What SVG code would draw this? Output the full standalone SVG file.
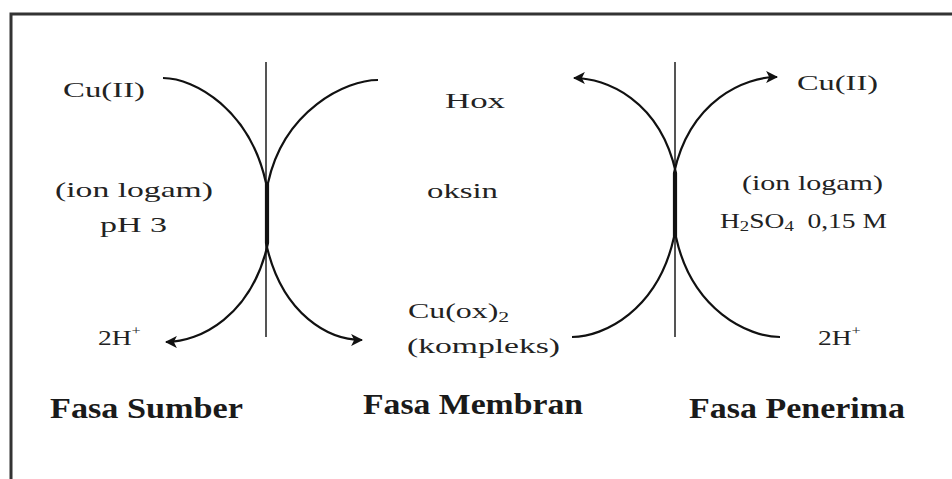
<svg xmlns="http://www.w3.org/2000/svg" width="952" height="479" viewBox="0 0 952 479">
<defs>
<marker id="ah" viewBox="0 0 10 10" refX="9" refY="5" markerWidth="5.5" markerHeight="5.5" markerUnits="strokeWidth" orient="auto">
<path d="M0,0 L10,5 L0,10 L2.5,5 Z" fill="#111"/>
</marker>
</defs>
<style>
.t{font-family:"Liberation Serif","Times New Roman",serif;font-size:22px;fill:#222}
.b{font-family:"Liberation Serif","Times New Roman",serif;font-size:30px;font-weight:bold;fill:#1a1a1a}
.c{fill:none;stroke:#111;stroke-width:2.2}
.m{stroke:#555;stroke-width:2}
.f{stroke:#333;stroke-width:3;fill:none}
</style>
<rect width="952" height="479" fill="#fff"/>
<g id="frame"><path class="f" d="M11,479 L11,14 L952,14"/></g>
<g id="membranes">
<line class="m" x1="266" y1="62" x2="266" y2="337"/>
<line class="m" x1="675" y1="62" x2="675" y2="337"/>
</g>
<g id="connectors">
<path class="c" d="M163,78 C195,78 250,110 266,183 L266,243 C282,316 330,340 362,340" marker-end="url(#ah)"/>
<path class="c" d="M378,80 C346,80 284,110 268,183 L268,243 C252,316 200,342 166,342" marker-end="url(#ah)"/>
<path class="c" d="M572,337 C604,337 658,310 674,237 L674,173 C690,100 745,77 777,77" marker-end="url(#ah)"/>
<path class="c" d="M780,337 C748,337 692,310 676,237 L676,173 C660,100 606,78 574,78" marker-end="url(#ah)"/>
</g>
<g id="source">
<text class="t" x="63" y="97" textLength="82" lengthAdjust="spacingAndGlyphs">Cu(II)</text>
<text class="t" x="55" y="197" textLength="158" lengthAdjust="spacingAndGlyphs">(ion logam)</text>
<text class="t" x="100" y="232" textLength="67" lengthAdjust="spacingAndGlyphs">pH 3</text>
<text class="t" transform="translate(98,345) scale(1.25,1)">2H<tspan font-size="13" dy="-10">+</tspan></text>
<text class="b" x="50" y="418" textLength="193" lengthAdjust="spacingAndGlyphs">Fasa Sumber</text>
</g>
<g id="membrane">
<text class="t" x="445" y="108" textLength="60" lengthAdjust="spacingAndGlyphs">Hox</text>
<text class="t" x="427" y="198" textLength="71" lengthAdjust="spacingAndGlyphs">oksin</text>
<text class="t" transform="translate(408,318) scale(1.45,1)">Cu(ox)<tspan font-size="15" dy="4">2</tspan></text>
<text class="t" x="407" y="353" textLength="153" lengthAdjust="spacingAndGlyphs">(kompleks)</text>
<text class="b" x="363" y="414" textLength="220" lengthAdjust="spacingAndGlyphs">Fasa Membran</text>
</g>
<g id="receiver">
<text class="t" x="797" y="90" textLength="81" lengthAdjust="spacingAndGlyphs">Cu(II)</text>
<text class="t" x="742" y="190" textLength="141" lengthAdjust="spacingAndGlyphs">(ion logam)</text>
<text class="t" transform="translate(720,228) scale(1.25,1)">H<tspan font-size="15" dy="3">2</tspan><tspan dy="-3">SO</tspan><tspan font-size="15" dy="3">4</tspan><tspan dy="-3" xml:space="preserve">  0,15 M</tspan></text>
<text class="t" transform="translate(818,345) scale(1.25,1)">2H<tspan font-size="13" dy="-10">+</tspan></text>
<text class="b" x="689" y="418" textLength="216" lengthAdjust="spacingAndGlyphs">Fasa Penerima</text>
</g>
</svg>
